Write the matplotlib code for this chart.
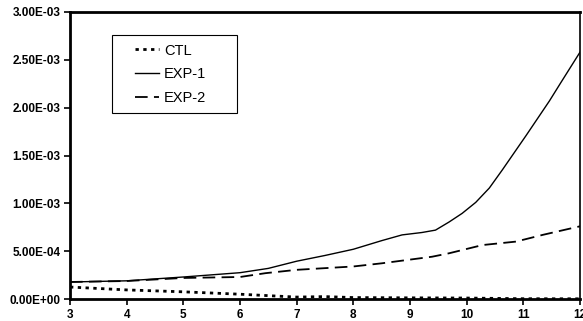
import numpy as np
import matplotlib.pyplot as plt
from matplotlib.ticker import FuncFormatter
from matplotlib.patches import Rectangle

plt.rcParams['font.family'] = ['Liberation Sans', 'DejaVu Sans']

# values
x_ctl = [3, 4, 5, 6, 7, 7.5, 8, 9, 10, 11, 12]
ctl = [1.25e-4, 9.5e-5, 7.5e-5, 5e-5, 2e-5, 2.5e-5, 1.5e-5, 1.2e-5, 1e-5, 3e-6, 2e-6]

x_exp1 = [3, 4, 5, 6, 6.5, 7, 7.5, 8, 8.5, 8.86, 9.21, 9.45, 9.69, 9.92, 10.16, 10.4, 10.63,
          11.05, 11.46, 11.66, 12]
exp1 = [1.78e-4, 1.9e-4, 2.3e-4, 2.75e-4, 3.2e-4, 3.95e-4, 4.55e-4, 5.2e-4, 6.1e-4, 6.7e-4,
        6.95e-4, 7.2e-4, 8.05e-4, 8.95e-4, 1.01e-3, 1.16e-3, 1.35e-3, 1.71e-3, 2.07e-3,
        2.26e-3, 2.58e-3]

x_exp2 = [3, 4, 5, 6, 6.45, 7, 8, 8.5, 9.39, 9.69, 10.28, 10.87, 11.34, 12]
exp2 = [1.78e-4, 1.88e-4, 2.2e-4, 2.3e-4, 2.7e-4, 3.05e-4, 3.4e-4, 3.73e-4, 4.42e-4, 4.78e-4,
        5.64e-4, 6.0e-4, 6.7e-4, 7.6e-4]

xticks = [3, 4, 5, 6, 7, 8, 9, 10, 11, 12]
yticks = [0, 5e-4, 1e-3, 1.5e-3, 2e-3, 2.5e-3, 3e-3]

fig = plt.figure(figsize=(5.83, 3.21), dpi=100)
ax = fig.add_axes([70 / 583, 22 / 321, 510 / 583, 287 / 321])

ax.plot(x_ctl, ctl, color='black', lw=2.0, linestyle=(0, (1.2, 1.6)), label='CTL')
ax.plot(x_exp1, exp1, color='black', lw=1.0, linestyle='-', label='EXP-1')
ax.plot(x_exp2, exp2, color='black', lw=1.3, linestyle=(0, (7, 3.5)), label='EXP-2')

ax.set_xlim(3, 12)
ax.set_ylim(0, 3e-3)
ax.set_xticks(xticks)
ax.set_yticks(yticks)
ax.yaxis.set_major_formatter(FuncFormatter(lambda v, p: ('%.2E' % v)))
ax.tick_params(axis='both', direction='out', length=4, width=1.2, labelsize=8.5)
for lab in ax.get_xticklabels() + ax.get_yticklabels():
    lab.set_fontweight('bold')
ax.tick_params(axis='x', pad=3)
ax.tick_params(axis='y', pad=3)

for s in ['left', 'bottom', 'top']:
    ax.spines[s].set_linewidth(2)
ax.spines['right'].set_linewidth(1.2)

# legend box drawn separately, entries placed inside it
ax.add_patch(Rectangle((0.0824, 0.648), 0.245, 0.272, transform=ax.transAxes,
                       facecolor='white', edgecolor='black', lw=0.8, zorder=3))
leg = ax.legend(loc='upper left', bbox_to_anchor=(0.127, 0.89), fontsize=10.5, frameon=False,
                handlelength=1.65, handletextpad=0.35, labelspacing=0.66,
                borderpad=0, borderaxespad=0)
leg.set_zorder(4)

fig.savefig('out.png', dpi=100)
